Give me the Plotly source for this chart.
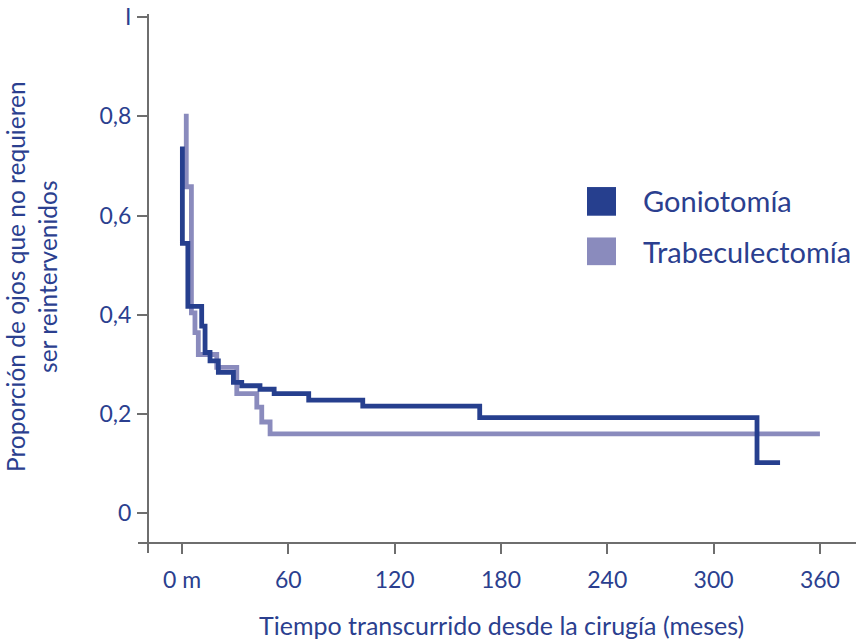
import plotly.graph_objects as go

# Goniotomía (step curve)
gonio_t = [0.2, 0.2, 3.3, 11.1, 13.0, 15.8, 20.5, 29.0, 33.7, 44.0, 52.0, 71.5, 102.0, 168.0, 324.5, 337.5]
gonio_s = [0.739, 0.544, 0.417, 0.377, 0.324, 0.307, 0.284, 0.264, 0.257, 0.250, 0.241, 0.228, 0.216, 0.193, 0.102, 0.102]

# Trabeculectomía (step curve)
trab_t = [2.4, 2.4, 5.3, 7.3, 9.2, 19.6, 30.9, 42.2, 45.0, 49.7, 360.0]
trab_s = [0.805, 0.658, 0.404, 0.364, 0.320, 0.294, 0.241, 0.214, 0.184, 0.160, 0.160]

x_tickvals = [0, 60, 120, 180, 240, 300, 360]
x_ticktext = ["0 m", "60", "120", "180", "240", "300", "360"]
y_tickvals = [0, 0.2, 0.4, 0.6, 0.8, 1.0]
y_ticktext = ["0", "0,2", "0,4", "0,6", "0,8", "I"]

DARK = "#263f8e"
LAV = "#8a8bbd"
TXT = "#2b3f8f"
AX = "#6e6e6e"
FONT = "Lato"

fig = go.Figure()
fig.add_trace(go.Scatter(x=trab_t, y=trab_s, mode="lines", line=dict(color=LAV, width=4.8, shape="hv"),
                         name="Trabeculectomía", showlegend=False, hoverinfo="skip"))
fig.add_trace(go.Scatter(x=gonio_t, y=gonio_s, mode="lines", line=dict(color=DARK, width=4.8, shape="hv"),
                         name="Goniotomía", showlegend=False, hoverinfo="skip"))

W, H = 857, 640
L, R, T, B = 148, 2, 9, 97

fig.update_layout(
    width=W, height=H,
    margin=dict(l=L, r=R, t=T, b=B, pad=0),
    paper_bgcolor="white", plot_bgcolor="white",
    font=dict(family=FONT, color=TXT, size=22),
    xaxis=dict(range=[-19.2, 379.8], showgrid=False, zeroline=False, showline=False,
               tickmode="array", tickvals=x_tickvals, ticktext=x_ticktext,
               ticks="outside", ticklen=10, tickwidth=2, tickcolor=AX,
               ticklabelstandoff=6, ticklabeloverflow="allow", tickfont=dict(size=23, color=TXT)),
    yaxis=dict(range=[-0.0598, 1.004], showgrid=False, zeroline=False, showline=False,
               tickmode="array", tickvals=y_tickvals, ticktext=y_ticktext,
               ticks="outside", ticklen=10, tickwidth=2, tickcolor=AX,
               ticklabelstandoff=1, ticklabeloverflow="allow", tickfont=dict(size=23, color=TXT)),
)

pw = W - L - R
ph = H - T - B
def px_x(p):
    return (p - L) / pw
def px_y(p):
    return 1 - (p - T) / ph

# axis lines (crossing)
fig.add_shape(type="line", xref="paper", yref="paper", x0=px_x(148), x1=px_x(148), y0=px_y(8), y1=px_y(553),
              line=dict(color=AX, width=2))
fig.add_shape(type="line", xref="paper", yref="paper", x0=px_x(138), x1=px_x(856), y0=px_y(543), y1=px_y(543),
              line=dict(color=AX, width=2))

# legend (manual squares)
fig.add_shape(type="rect", xref="paper", yref="paper", x0=px_x(587), x1=px_x(616), y0=px_y(212), y1=px_y(183),
              line=dict(width=0), fillcolor=DARK)
fig.add_shape(type="rect", xref="paper", yref="paper", x0=px_x(587), x1=px_x(616), y0=px_y(262), y1=px_y(234),
              line=dict(width=0), fillcolor=LAV)
fig.add_annotation(xref="paper", yref="paper", x=px_x(641), y=px_y(197), text="Goniotomía", showarrow=False,
                   xanchor="left", yanchor="middle", font=dict(size=29, color=TXT, family=FONT))
fig.add_annotation(xref="paper", yref="paper", x=px_x(641), y=px_y(248), text="Trabeculectomía", showarrow=False,
                   xanchor="left", yanchor="middle", font=dict(size=29, color=TXT, family=FONT))

# axis titles
fig.add_annotation(xref="paper", yref="paper", x=px_x(501), y=px_y(626), text="Tiempo transcurrido desde la cirugía (meses)",
                   showarrow=False, xanchor="center", yanchor="middle", font=dict(size=25, color=TXT, family=FONT))
fig.add_annotation(xref="paper", yref="paper", x=px_x(31), y=px_y(274),
                   text="Proporción de ojos que no requieren<br>ser reintervenidos",
                   textangle=-90, showarrow=False, xanchor="center", yanchor="middle",
                   font=dict(size=24.5, color=TXT, family=FONT))

fig.write_html("out.html", config={"displayModeBar": False},
               post_script="document.body.style.margin='0px';")
